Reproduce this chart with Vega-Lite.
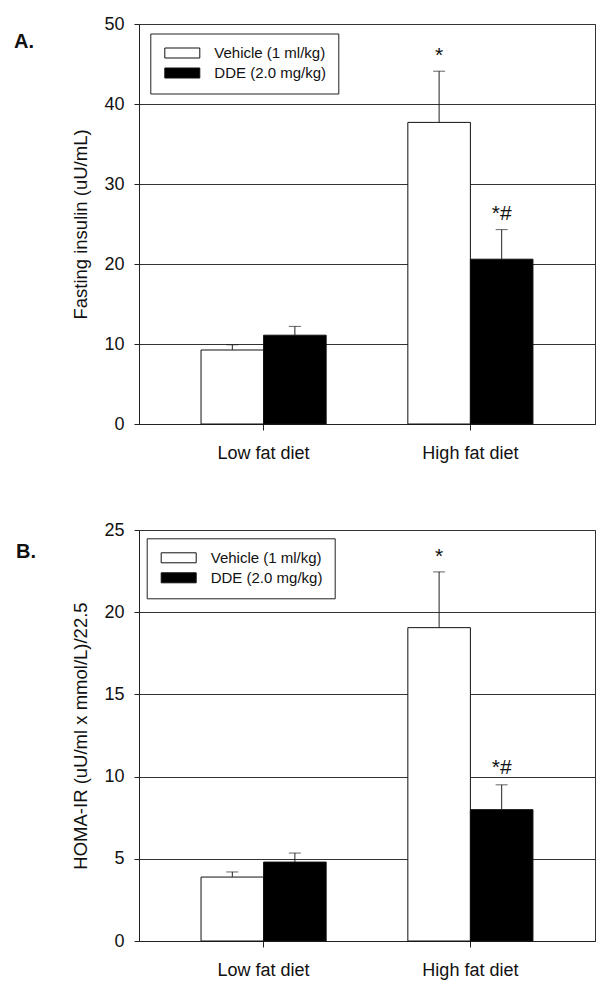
{
  "$schema": "https://vega.github.io/schema/vega-lite/v6.json",
  "padding": {"left": 13, "top": 14, "right": 10, "bottom": 5},
  "background": "white",
  "config": {
    "font": "Liberation Sans",
    "view": {"stroke": "#333", "strokeWidth": 1},
    "axis": {
      "labelFont": "Liberation Sans",
      "titleFont": "Liberation Sans",
      "labelColor": "#111",
      "titleColor": "#111",
      "domainColor": "#222",
      "tickColor": "#222",
      "gridColor": "#333",
      "gridOpacity": 1,
      "gridWidth": 1
    },
    "legend": {
      "labelFont": "Liberation Sans",
      "labelFontSize": 15,
      "labelColor": "#111"
    }
  },
  "resolve": {"scale": {"fill": "independent", "y": "independent"}, "legend": {"fill": "independent"}},
  "spacing": 57,
  "vconcat": [
    {
      "width": 456,
      "height": 400,
      "title": {"text": "A.", "anchor": "start", "frame": "group", "fontSize": 20, "fontWeight": "bold", "font": "Liberation Sans", "dx": -125, "dy": 37, "offset": 0, "color": "#111"},
      "data": {"values": [
        {"diet": "Low fat diet", "group": "Vehicle (1 ml/kg)", "mean": 9.25, "upper": 9.9, "anno": "", "annoY": 0},
        {"diet": "Low fat diet", "group": "DDE (2.0 mg/kg)", "mean": 11.1, "upper": 12.2, "anno": "", "annoY": 0},
        {"diet": "High fat diet", "group": "Vehicle (1 ml/kg)", "mean": 37.7, "upper": 44.1, "anno": "*", "annoY": 45.2},
        {"diet": "High fat diet", "group": "DDE (2.0 mg/kg)", "mean": 20.6, "upper": 24.3, "anno": "*#", "annoY": 25.5}
      ]},
      "encoding": {
        "x": {"field": "diet", "type": "nominal", "sort": ["Low fat diet", "High fat diet"],
          "scale": {"paddingInner": 0.395, "paddingOuter": 0.3},
          "axis": {"title": null, "labelAngle": 0, "labelFontSize": 18, "tickSize": 6, "labelPadding": 14, "domainColor": "#222"}},
        "xOffset": {"field": "group", "type": "nominal", "sort": ["Vehicle (1 ml/kg)", "DDE (2.0 mg/kg)"], "scale": {"paddingInner": 0, "paddingOuter": 0}}
      },
      "layer": [
        {
          "mark": {"type": "bar", "stroke": "#111", "strokeWidth": 1},
          "encoding": {
            "y": {"field": "mean", "type": "quantitative", "scale": {"domain": [0, 50], "nice": false},
              "axis": {"title": "Fasting insulin (uU/mL)", "titleFontSize": 18.5, "titleFontWeight": "normal", "labelFontSize": 18, "values": [0, 10, 20, 30, 40, 50], "tickSize": 5, "labelPadding": 10, "titlePadding": 13, "grid": true}},
            "fill": {"field": "group", "type": "nominal", "sort": ["Vehicle (1 ml/kg)", "DDE (2.0 mg/kg)"],
              "scale": {"domain": ["Vehicle (1 ml/kg)", "DDE (2.0 mg/kg)"], "range": ["#ffffff", "#000000"]},
              "legend": {"title": null, "orient": "none", "legendX": 11.3, "legendY": 9.5, "padding": 12, "rowPadding": 4,
                "symbolType": "M-1,-1H6V1H-1Z", "symbolSize": 100, "symbolStrokeColor": "#111", "symbolStrokeWidth": 1, "labelOffset": 37,
                "strokeColor": "#222", "fillColor": "white"}}
          }
        },
        {
          "mark": {"type": "rule", "color": "#222", "strokeWidth": 1},
          "encoding": {"y": {"field": "mean", "type": "quantitative"}, "y2": {"field": "upper"}}
        },
        {
          "mark": {"type": "tick", "color": "#222", "thickness": 1, "size": 12, "orient": "horizontal"},
          "encoding": {"y": {"field": "upper", "type": "quantitative"}}
        },
        {
          "mark": {"type": "text", "fontSize": 21, "color": "#111", "baseline": "alphabetic", "font": "Liberation Sans"},
          "encoding": {"y": {"field": "annoY", "type": "quantitative"}, "text": {"field": "anno"}}
        }
      ]
    },
    {
      "width": 456,
      "height": 411,
      "title": {"text": "B.", "anchor": "start", "frame": "group", "fontSize": 20, "fontWeight": "bold", "font": "Liberation Sans", "dx": -123, "dy": 41, "offset": 0, "color": "#111"},
      "data": {"values": [
        {"diet": "Low fat diet", "group": "Vehicle (1 ml/kg)", "mean": 3.89, "upper": 4.2, "anno": "", "annoY": 0},
        {"diet": "Low fat diet", "group": "DDE (2.0 mg/kg)", "mean": 4.8, "upper": 5.35, "anno": "", "annoY": 0},
        {"diet": "High fat diet", "group": "Vehicle (1 ml/kg)", "mean": 19.06, "upper": 22.45, "anno": "*", "annoY": 23.0},
        {"diet": "High fat diet", "group": "DDE (2.0 mg/kg)", "mean": 7.99, "upper": 9.5, "anno": "*#", "annoY": 10.15}
      ]},
      "encoding": {
        "x": {"field": "diet", "type": "nominal", "sort": ["Low fat diet", "High fat diet"],
          "scale": {"paddingInner": 0.395, "paddingOuter": 0.3},
          "axis": {"title": null, "labelAngle": 0, "labelFontSize": 18, "tickSize": 6, "labelPadding": 14, "domainColor": "#222"}},
        "xOffset": {"field": "group", "type": "nominal", "sort": ["Vehicle (1 ml/kg)", "DDE (2.0 mg/kg)"], "scale": {"paddingInner": 0, "paddingOuter": 0}}
      },
      "layer": [
        {
          "mark": {"type": "bar", "stroke": "#111", "strokeWidth": 1},
          "encoding": {
            "y": {"field": "mean", "type": "quantitative", "scale": {"domain": [0, 25], "nice": false},
              "axis": {"title": "HOMA-IR (uU/ml x mmol/L)/22.5", "titleFontSize": 18.5, "titleFontWeight": "normal", "labelFontSize": 18, "values": [0, 5, 10, 15, 20, 25], "tickSize": 5, "labelPadding": 10, "titlePadding": 13, "grid": true}},
            "fill": {"field": "group", "type": "nominal", "sort": ["Vehicle (1 ml/kg)", "DDE (2.0 mg/kg)"],
              "scale": {"domain": ["Vehicle (1 ml/kg)", "DDE (2.0 mg/kg)"], "range": ["#ffffff", "#000000"]},
              "legend": {"title": null, "orient": "none", "legendX": 7.7, "legendY": 8.3, "padding": 12, "rowPadding": 4,
                "symbolType": "M-1,-1H6V1H-1Z", "symbolSize": 100, "symbolStrokeColor": "#111", "symbolStrokeWidth": 1, "labelOffset": 37,
                "strokeColor": "#222", "fillColor": "white"}}
          }
        },
        {
          "mark": {"type": "rule", "color": "#222", "strokeWidth": 1},
          "encoding": {"y": {"field": "mean", "type": "quantitative"}, "y2": {"field": "upper"}}
        },
        {
          "mark": {"type": "tick", "color": "#222", "thickness": 1, "size": 12, "orient": "horizontal"},
          "encoding": {"y": {"field": "upper", "type": "quantitative"}}
        },
        {
          "mark": {"type": "text", "fontSize": 21, "color": "#111", "baseline": "alphabetic", "font": "Liberation Sans"},
          "encoding": {"y": {"field": "annoY", "type": "quantitative"}, "text": {"field": "anno"}}
        }
      ]
    }
  ]
}
